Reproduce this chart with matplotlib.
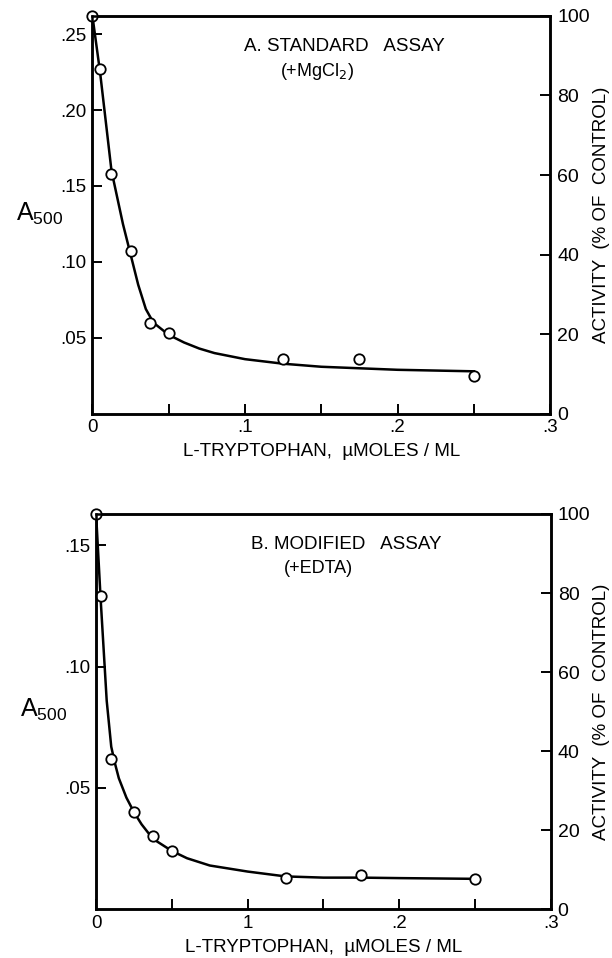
import numpy as np
import matplotlib.pyplot as plt

plt.rcParams['font.family'] = ['Liberation Sans', 'DejaVu Sans']

# panel A: standard assay (+MgCl2)
a_conc = [0, 0.005, 0.0125, 0.025, 0.0375, 0.05, 0.125, 0.175, 0.25]
a_abs = [0.262, 0.227, 0.158, 0.107, 0.060, 0.053, 0.036, 0.036, 0.025]
a_curve_x = [0, 0.005, 0.0125, 0.02, 0.025, 0.03, 0.035, 0.04, 0.05, 0.06,
             0.07, 0.08, 0.1, 0.125, 0.15, 0.175, 0.2, 0.25]
a_curve_y = [0.262, 0.225, 0.16, 0.125, 0.105, 0.085, 0.069, 0.060, 0.052, 0.047,
             0.043, 0.040, 0.036, 0.033, 0.031, 0.030, 0.029, 0.028]
a_top = 0.262

# panel B: modified assay (+EDTA)
b_conc = [0, 0.003, 0.01, 0.025, 0.0375, 0.05, 0.125, 0.175, 0.25]
b_abs = [0.163, 0.129, 0.062, 0.040, 0.030, 0.024, 0.013, 0.014, 0.0125]
b_curve_x = [0, 0.003, 0.007, 0.01, 0.0125, 0.015, 0.02, 0.025, 0.03, 0.0375, 0.05,
             0.06, 0.075, 0.1, 0.125, 0.15, 0.175, 0.2, 0.25]
b_curve_y = [0.163, 0.128, 0.086, 0.067, 0.060, 0.054, 0.046, 0.040, 0.035, 0.029,
             0.024, 0.021, 0.018, 0.0155, 0.0135, 0.013, 0.013, 0.0128, 0.0125]
b_top = 0.163

pct_ticks = [0, 20, 40, 60, 80, 100]
x_major = [0, 0.1, 0.2, 0.3]
x_minor = [0.05, 0.15, 0.25]


def panel(rect, conc, absb, cx, cy, top, yticks, ylabels, xlabels, title, sub):
    ax = fig.add_axes(rect)
    ax.plot(cx, cy, color='black', lw=1.8, zorder=2)
    ax.plot(conc, absb, 'o', ms=7.5, mfc='white', mec='black', mew=1.3,
            clip_on=False, zorder=3)
    ax.set_xlim(0, 0.3)
    ax.set_ylim(0, top)
    ax.set_xticks(x_major)
    ax.set_xticklabels(xlabels, fontsize=13.5)
    ax.set_xticks(x_minor, minor=True)
    ax.set_yticks(yticks)
    ax.set_yticklabels(ylabels, fontsize=13.5)
    ax.tick_params(direction='in', length=7, width=1.4, pad=4)
    ax.tick_params(which='minor', direction='in', length=7, width=1.4)
    for s in ax.spines.values():
        s.set_linewidth(1.8)
    ax.set_xlabel('L-TRYPTOPHAN,  \u00b5MOLES / ML', fontsize=13.5, labelpad=5)
    ax.set_ylabel('A$_{\\mathregular{500}}$', fontsize=18, rotation=0)
    ax.yaxis.set_label_coords(-0.115, 0.47)
    ax.text(0.55, 0.912, title, transform=ax.transAxes, ha='center', fontsize=13.5)
    ax.text(0.49, 0.85, sub, transform=ax.transAxes, ha='center', fontsize=13)

    ax2 = ax.twinx()
    ax2.set_ylim(0, 100)
    ax2.set_yticks(pct_ticks)
    ax2.set_yticklabels([str(p) for p in pct_ticks], fontsize=14)
    ax2.tick_params(direction='in', length=7, width=1.4, pad=5)
    for s in ax2.spines.values():
        s.set_linewidth(1.8)
    ax2.set_ylabel('ACTIVITY  (% OF  CONTROL)', fontsize=13.5, labelpad=2)
    return ax


fig = plt.figure(figsize=(6.12, 9.58), dpi=100)

panel([0.151, 0.568, 0.748, 0.4155], a_conc, a_abs, a_curve_x, a_curve_y, a_top,
      [0.05, 0.10, 0.15, 0.20, 0.25], ['.05', '.10', '.15', '.20', '.25'],
      ['0', '.1', '.2', '.3'], 'A. STANDARD   ASSAY', '(+MgCl$_2$)')

panel([0.157, 0.051, 0.743, 0.4125], b_conc, b_abs, b_curve_x, b_curve_y, b_top,
      [0.05, 0.10, 0.15], ['.05', '.10', '.15'],
      ['0', '1', '.2', '.3'], 'B. MODIFIED   ASSAY', '(+EDTA)')

fig.savefig('out.png', dpi=100)
